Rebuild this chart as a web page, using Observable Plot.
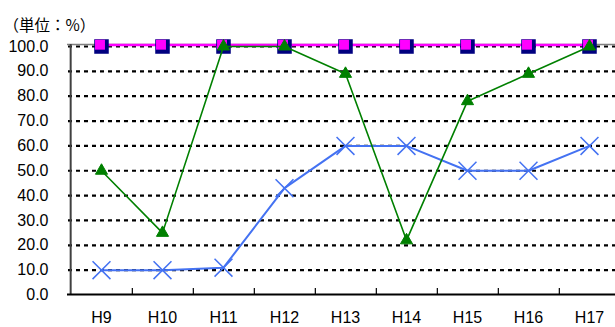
<!DOCTYPE html>
<html>
<head>
<meta charset="utf-8">
<script src="https://cdn.jsdelivr.net/npm/d3@7"></script>
<script src="https://cdn.jsdelivr.net/npm/@observablehq/plot@0.6"></script>
<style>
  html, body { margin: 0; padding: 0; background: #fff; overflow: hidden; }
  svg { display: block; }
</style>
</head>
<body>
<div id="chart"></div>
<script>
const categories = ["H9", "H10", "H11", "H12", "H13", "H14", "H15", "H16", "H17"];
const seriesSquare = [100, 100, 100, 100, 100, 100, 100, 100, 100];
const seriesTriangle = [50, 25, 100, 100, 89, 22, 78, 89, 100];
const seriesCross = [10, 10, 11, 43, 60, 60, 50, 50, 60];
const yTicks = [0, 10, 20, 30, 40, 50, 60, 70, 80, 90, 100];
const gridTicks = [10, 20, 30, 40, 50, 60, 70, 80, 90, 100];
const unitLabel = "（単位：%）";

const sq = categories.map((c, i) => ({c, v: seriesSquare[i]}));
const tri = categories.map((c, i) => ({c, v: seriesTriangle[i]}));
const crs = categories.map((c, i) => ({c, v: seriesCross[i]}));

const step = (622 - 67) / categories.length;
const font = "'Liberation Sans', Arial, sans-serif";

const chart = Plot.plot({
  width: 615,
  height: 327,
  marginLeft: 67,
  marginRight: 0,
  marginTop: 46,
  marginBottom: 32.5,
  style: {fontFamily: font, fontSize: "16px", color: "#000", background: "#fff", overflow: "hidden"},
  x: {type: "point", domain: categories, range: [67, 622], padding: 0.5},
  y: {domain: [0, 100]},
  marks: [
    // dashed grid
    Plot.ruleY(gridTicks, {stroke: "#000", strokeWidth: 2.2, strokeDasharray: "4,4", dx: 1}),
    // top frame line (grey)
    Plot.ruleY([100], {stroke: "#808080", strokeWidth: 1.6, dy: -2}),
    // left axis line
    Plot.ruleX([categories[0]], {y1: 0, y2: 100.8, dx: -step / 2, stroke: "#404040", strokeWidth: 2}),
    // bottom axis line
    Plot.ruleY([0], {stroke: "#000", strokeWidth: 2, dy: -0.5}),
    // category tick marks between bands
    Plot.ruleX(categories, {y1: 0, y2: 2.6, dx: step / 2, stroke: "#000", strokeWidth: 1.2}),
    // y tick labels
    Plot.axisY(yTicks, {tickSize: 0, tickPadding: 19, tickFormat: d => d.toFixed(1), fontSize: 16, label: null}),
    // x tick labels
    Plot.axisX(categories, {tickSize: 0, tickPadding: 16.5, fontSize: 16, label: null}),
    // blue cross series
    Plot.line(crs, {x: "c", y: "v", stroke: "#4472f2", strokeWidth: 2}),
    Plot.dot(crs, {x: "c", y: "v", symbol: "times", r: 8.2, stroke: "#4472f2", strokeWidth: 1.5}),
    // magenta square series
    Plot.line(sq, {x: "c", y: "v", stroke: "#ff00ff", strokeWidth: 2.6, dy: -1.5}),
    Plot.dot(sq, {x: "c", y: "v", symbol: "square", r: 8.2, fill: "#000080", stroke: "none"}),
    Plot.dot(sq, {x: "c", y: "v", symbol: "square", r: 5.6, fill: "#ff00ff", stroke: "none", dx: -1.5, dy: -1.8}),
    // green triangle series
    Plot.line(tri, {x: "c", y: "v", stroke: "#008000", strokeWidth: 1.6}),
    Plot.dot(tri, {x: "c", y: "v", symbol: "triangle", r: 4.5, fill: "#008000", stroke: "#008000", strokeWidth: 1}),
    // unit label
    Plot.text([unitLabel], {frameAnchor: "top-left", dx: -64, dy: -20, text: d => d, textAnchor: "start", lineAnchor: "middle", fontSize: 15.5, fontFamily: "'Noto Sans CJK JP', sans-serif", fill: "#000"})
  ]
});
document.getElementById("chart").appendChild(chart);
</script>
</body>
</html>
